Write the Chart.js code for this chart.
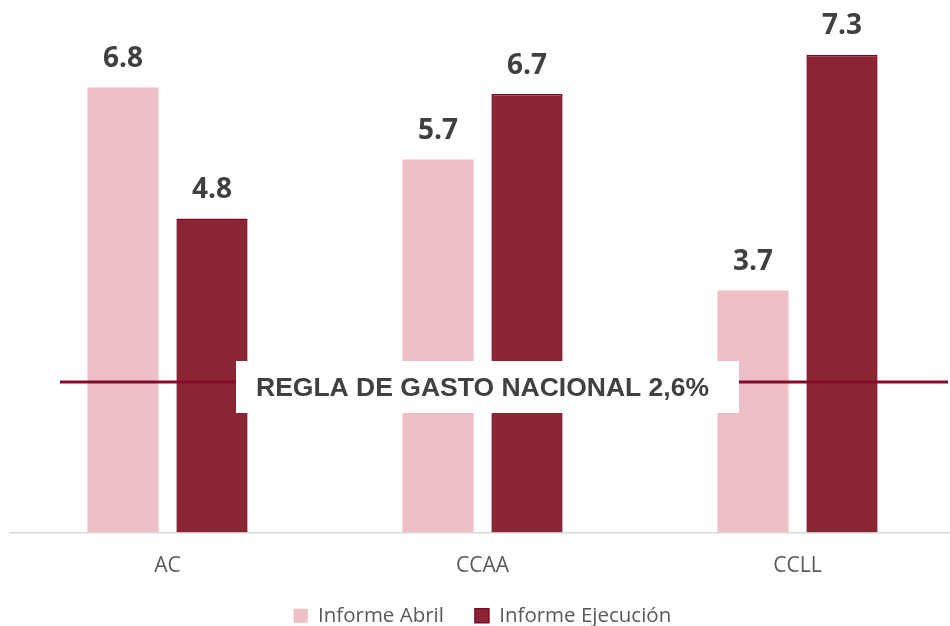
<!DOCTYPE html>
<html>
<head>
<meta charset="utf-8">
<script src="https://cdn.jsdelivr.net/npm/chart.js@4.4.0/dist/chart.umd.min.js"></script>
<style>
  html, body { margin: 0; padding: 0; background: #fff; overflow: hidden; }
  #wrap { position: relative; width: 955px; height: 636px; }
</style>
</head>
<body>
<div id="wrap"><canvas id="gastoChart"></canvas></div>
<script>
// ======================================
// DATA
// ======================================
const categorias = ['AC', 'CCAA', 'CCLL'];
const informeAbril = [6.8, 5.7, 3.7];
const informeEjecucion = [4.8, 6.7, 7.3];
const serieNombres = ['Informe Abril', 'Informe Ejecución'];
const reglaTexto = 'REGLA DE GASTO NACIONAL 2,6%';
const reglaValor = 2.3; // where the line sits on the value scale in the picture

// colours
const colorAbril = '#EFBFC6';
const colorEjec = '#8B2533';
const colorEjecBorder = '#7B0C28';
const colorRegla = '#880A2A';
const colorTexto = '#404040';
const colorEje = '#595959';

// ======================================
// PLUGINS
// ======================================
const reglaPlugin = {
    id: 'reglaGasto',
    afterDatasetsDraw(chart) {
        const { ctx, chartArea, scales } = chart;
        const y = scales.y.getPixelForValue(reglaValor);
        ctx.save();
        // line
        ctx.strokeStyle = colorRegla; ctx.lineWidth = 3;
        ctx.beginPath();
        ctx.moveTo(chartArea.left + 50, y);
        ctx.lineTo(chartArea.right - 7, y);
        ctx.stroke();
        // label box
        ctx.font = 'bold 26.5px "Liberation Sans", Arial, sans-serif';
        const w = ctx.measureText(reglaTexto).width;
        const cx = (chartArea.left + chartArea.right) / 2;
        ctx.fillStyle = '#ffffff';
        ctx.fillRect(cx - w / 2 - 20, y - 21, w + 50, 52);
        ctx.fillStyle = colorTexto; ctx.textAlign = 'center'; ctx.textBaseline = 'middle';
        ctx.fillText(reglaTexto, cx, y + 7);
        ctx.restore();
    }
};

const etiquetasPlugin = {
    id: 'etiquetasValor',
    afterDatasetsDraw(chart) {
        const { ctx } = chart;
        ctx.save();
        ctx.font = 'bold 28px "Open Sans", sans-serif';
        ctx.fillStyle = colorTexto; ctx.textAlign = 'center'; ctx.textBaseline = 'middle';
        chart.data.datasets.forEach((ds, i) => {
            chart.getDatasetMeta(i).data.forEach((bar, j) => {
                ctx.fillText(ds.data[j].toFixed(1), bar.x, bar.y - 28.5);
            });
        });
        ctx.restore();
    }
};

// ======================================
// CHART
// ======================================
document.addEventListener('DOMContentLoaded', function() {
    const ctx = document.getElementById('gastoChart').getContext('2d');
    new Chart(ctx, {
        type: 'bar',
        data: {
            labels: categorias,
            datasets: [
                { label: serieNombres[0], data: informeAbril, backgroundColor: colorAbril, borderColor: colorAbril, borderWidth: 0 },
                { label: serieNombres[1], data: informeEjecucion, backgroundColor: colorEjec, borderColor: colorEjecBorder, borderWidth: 1.5 }
            ]
        },
        options: {
            responsive: true, maintainAspectRatio: false, animation: false,
            layout: { padding: { left: 10, right: 0, top: 9, bottom: 0 } },
            categoryPercentage: 0.565, barPercentage: 0.8,
            scales: {
                x: {
                    grid: { display: false },
                    border: { display: true, color: '#D9D9D9', width: 1.5 },
                    ticks: { color: colorEje, padding: 13, font: { family: '"Open Sans", sans-serif', size: 21 } },
                    afterFit: function(scale) { scale.height = 42; }
                },
                y: { display: false, min: 0, max: 8 }
            },
            plugins: {
                legend: {
                    position: 'bottom',
                    labels: {
                        color: colorEje, boxWidth: 14, boxHeight: 14, padding: 31,
                        font: { family: '"Open Sans", sans-serif', size: 20.5 }
                    }
                },
                tooltip: { enabled: false }
            }
        },
        plugins: [reglaPlugin, etiquetasPlugin]
    });
});
</script>
</body>
</html>
